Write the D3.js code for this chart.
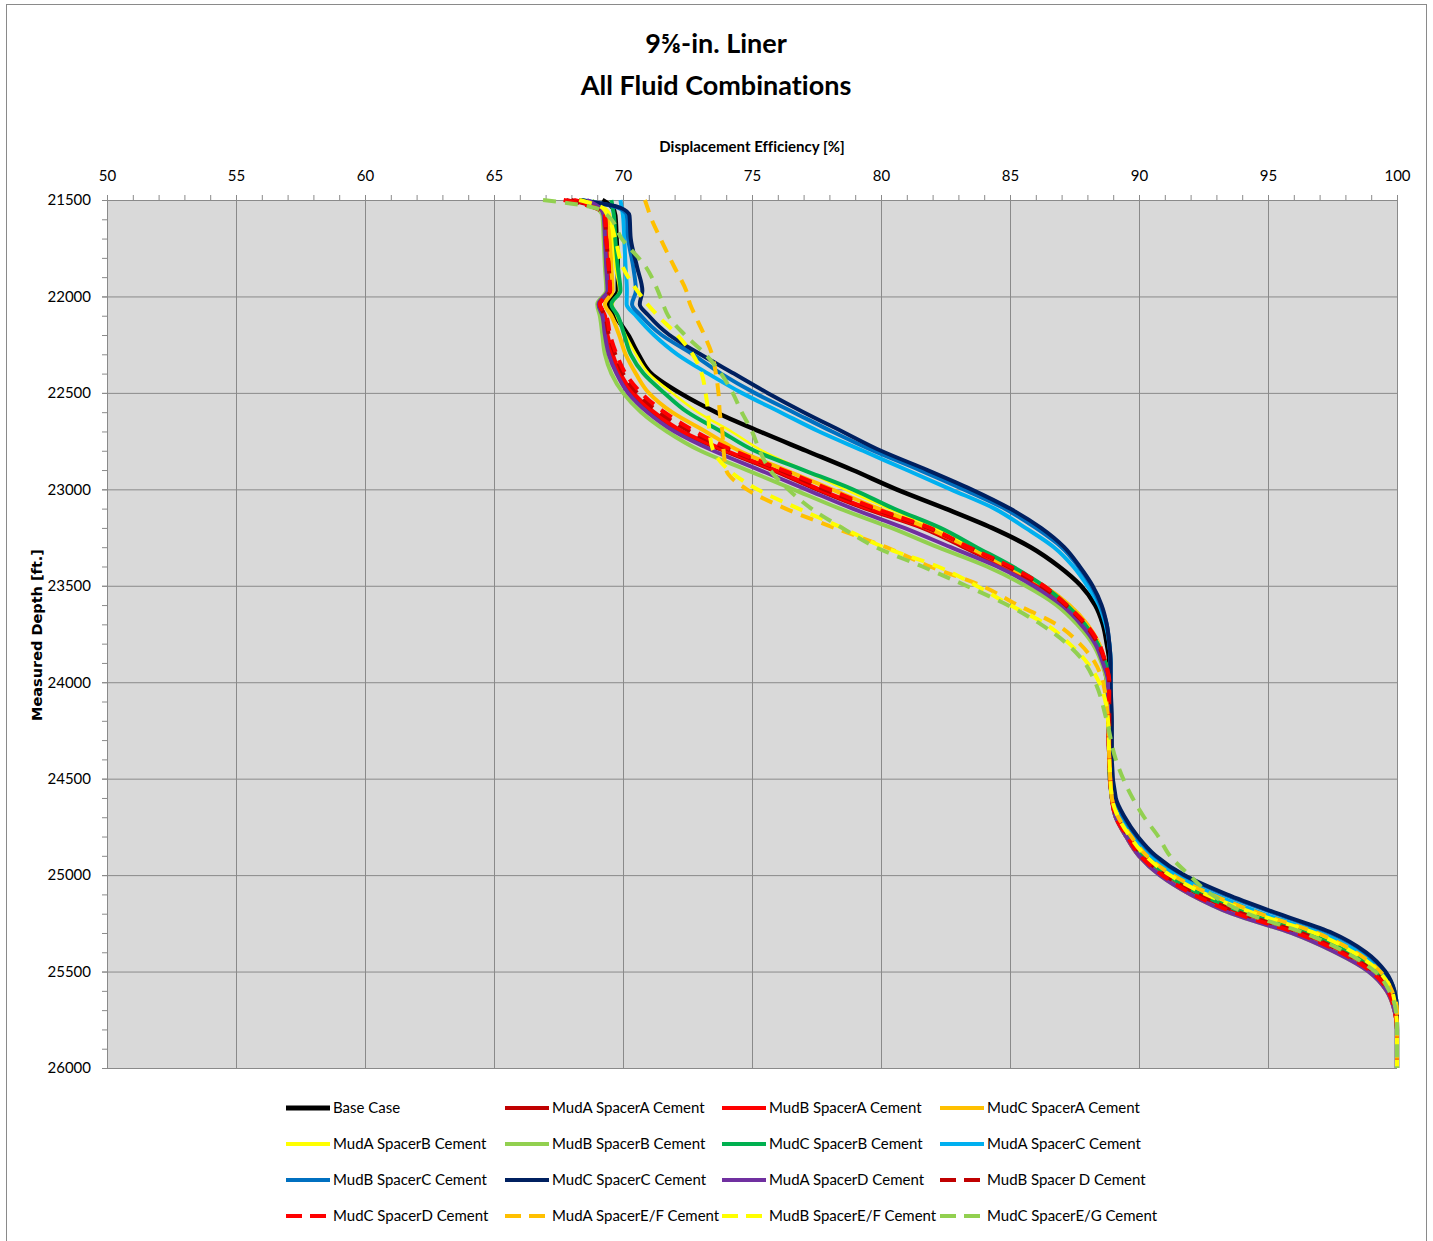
<!DOCTYPE html>
<html>
<head>
<meta charset="utf-8">
<script src="https://cdn.jsdelivr.net/npm/d3@7"></script>
<style>
  body { margin: 0; background: #fff; }
  svg text { font-family: Lato, "Open Sans", sans-serif; fill: #000; font-variant-ligatures: none; font-feature-settings: "liga" 0, "dlig" 0; }
  .grid line { stroke: #8a8a8a; stroke-width: 1; }
  .grid path { display: none; }
  .axis path, .axis line { stroke: #8a8a8a; }
  .axis text { font-size: 15px; font-family: Lato, sans-serif; }
</style>
</head>
<body>
<div id="chart"></div>
<script>
// depth points (ft) shared by every series
const depths = [21500, 21540, 21580, 21700, 21850, 21970, 22040, 22100, 22200, 22300,
  22400, 22500, 22600, 22700, 22800, 22900, 23000, 23100, 23200, 23300,
  23400, 23500, 23600, 23700, 23800, 23900, 24000,
  24200, 24400, 24600, 24700, 24800, 24900, 25000, 25100, 25200, 25300, 25400, 25500, 25600, 25700, 25800, 26000];

// displacement efficiency [%] per series
const baseCase = [69.2, 69.6, 69.7, 69.75, 69.8, 69.8, 69.45, 69.7, 70.2, 70.6,
  71.1, 72.2, 73.6, 75.3, 77.1, 78.9, 80.6, 82.5, 84.3, 85.8,
  86.9, 87.75, 88.3, 88.6, 88.75, 88.85, 88.85,
  88.85, 88.85, 88.95, 89.2, 89.7, 90.3, 91.2, 92.6, 94.4, 96.7, 98.2, 99.25, 99.75, 99.95, 100, 100];
const mudASpacerA = [68.0, 69.0, 69.3, 69.35, 69.4, 69.45, 69.05, 69.25, 69.35, 69.55,
  69.85, 70.35, 71.1, 72.2, 73.9, 75.8, 77.5, 79.4, 81.6, 83.2,
  84.7, 86.0, 87.0, 87.8, 88.35, 88.6, 88.75,
  88.8, 88.85, 88.95, 89.1, 89.55, 90.1, 90.9, 92.1, 93.8, 96.1, 97.8, 99.0, 99.65, 99.9, 100, 100];
const mudBSpacerA = [68.1, 69.1, 69.35, 69.4, 69.45, 69.5, 69.1, 69.3, 69.4, 69.6,
  69.9, 70.4, 71.2, 72.3, 74.0, 75.9, 77.6, 79.5, 81.7, 83.3,
  84.8, 86.1, 87.1, 87.85, 88.4, 88.65, 88.8,
  88.8, 88.85, 88.95, 89.1, 89.5, 90.0, 90.85, 92.0, 93.7, 96.0, 97.7, 98.95, 99.6, 99.9, 100, 100];
const mudCSpacerA = [68.4, 69.2, 69.45, 69.5, 69.55, 69.6, 69.3, 69.55, 69.85, 70.1,
  70.5, 71.0, 71.9, 73.2, 74.5, 76.3, 78.1, 79.9, 81.8, 83.4,
  84.9, 86.3, 87.3, 88.0, 88.45, 88.7, 88.85,
  88.85, 88.85, 88.95, 89.2, 89.65, 90.25, 91.1, 92.5, 94.3, 96.6, 98.1, 99.2, 99.75, 99.95, 100, 100];
const mudASpacerB = [68.5, 69.3, 69.5, 69.6, 69.7, 69.85, 69.6, 69.75, 70.1, 70.5,
  71.0, 71.9, 72.9, 74.2, 75.4, 77.0, 78.6, 80.3, 82.1, 83.6,
  85.1, 86.3, 87.25, 87.95, 88.45, 88.7, 88.85,
  88.85, 88.85, 88.95, 89.2, 89.7, 90.3, 91.2, 92.6, 94.4, 96.7, 98.2, 99.25, 99.75, 99.95, 100, 100];
const mudBSpacerB = [68.8, 69.0, 69.2, 69.25, 69.3, 69.35, 69.0, 69.1, 69.2, 69.3,
  69.55, 70.0, 70.7, 71.7, 73.0, 74.8, 76.6, 78.4, 80.4, 82.2,
  84.1, 85.6, 86.8, 87.6, 88.2, 88.55, 88.75,
  88.8, 88.85, 88.95, 89.1, 89.5, 90.0, 90.8, 92.0, 93.6, 95.9, 97.6, 98.9, 99.6, 99.9, 100, 100];
const mudCSpacerB = [69.55, 69.6, 69.65, 69.7, 69.8, 69.9, 69.55, 69.8, 70.05, 70.3,
  70.8, 71.6, 72.5, 73.8, 75.1, 77.0, 78.9, 80.5, 82.3, 83.7,
  85.1, 86.3, 87.2, 87.9, 88.4, 88.7, 88.85,
  88.85, 88.85, 88.95, 89.15, 89.6, 90.2, 91.1, 92.4, 94.2, 96.5, 98.1, 99.2, 99.7, 99.95, 100, 100];
const mudASpacerC = [69.9, 69.95, 70.0, 70.05, 70.1, 70.15, 70.14, 70.5, 71.2, 72.1,
  73.3, 74.6, 76.1, 77.6, 79.3, 81.0, 82.7, 84.4, 85.6, 86.7,
  87.45, 88.0, 88.45, 88.7, 88.85, 88.9, 88.9,
  88.9, 88.9, 89.0, 89.3, 89.8, 90.45, 91.45, 92.9, 94.8, 97.0, 98.5, 99.4, 99.85, 100, 100, 100];
const mudBSpacerC = [68.4, 69.8, 70.15, 70.2, 70.4, 70.5, 70.35, 70.7, 71.5, 72.7,
  73.8, 75.1, 76.6, 78.1, 79.7, 81.5, 83.2, 84.8, 86.0, 87.0,
  87.65, 88.15, 88.5, 88.75, 88.85, 88.9, 88.9,
  88.9, 88.9, 89.05, 89.4, 89.9, 90.6, 91.7, 93.3, 95.3, 97.4, 98.75, 99.5, 99.9, 100, 100, 100];
const mudCSpacerC = [68.3, 69.9, 70.25, 70.3, 70.55, 70.75, 70.65, 71.0, 71.8, 73.0,
  74.3, 75.6, 77.0, 78.5, 80.0, 81.8, 83.5, 85.0, 86.2, 87.1,
  87.7, 88.2, 88.55, 88.75, 88.85, 88.9, 88.9,
  88.95, 88.95, 89.1, 89.45, 89.95, 90.65, 91.75, 93.4, 95.4, 97.5, 98.8, 99.55, 99.9, 100, 100, 100];
const mudASpacerD = [68.6, 69.1, 69.25, 69.3, 69.35, 69.4, 69.05, 69.2, 69.3, 69.45,
  69.75, 70.2, 70.95, 72.0, 73.5, 75.3, 77.1, 78.9, 80.9, 82.7,
  84.5, 85.9, 87.0, 87.75, 88.3, 88.6, 88.8,
  88.8, 88.85, 88.95, 89.1, 89.5, 90.0, 90.8, 92.0, 93.6, 95.9, 97.6, 98.9, 99.6, 99.9, 100, 100];
const mudBSpacerD = [67.8, 68.9, 69.3, 69.35, 69.45, 69.5, 69.1, 69.3, 69.45, 69.7,
  70.0, 70.55, 71.4, 72.6, 74.2, 76.1, 77.8, 79.7, 81.8, 83.4,
  84.9, 86.2, 87.15, 87.9, 88.4, 88.7, 88.85,
  88.85, 88.85, 88.95, 89.15, 89.6, 90.15, 91.0, 92.3, 94.0, 96.3, 97.9, 99.1, 99.7, 99.95, 100, 100];
const mudCSpacerD = [67.7, 68.9, 69.3, 69.35, 69.45, 69.5, 69.1, 69.35, 69.5, 69.75,
  70.1, 70.7, 71.6, 72.8, 74.3, 76.2, 78.0, 79.8, 81.9, 83.4,
  85.0, 86.3, 87.2, 87.95, 88.45, 88.7, 88.85,
  88.8, 88.85, 88.95, 89.1, 89.55, 90.05, 90.9, 92.1, 93.8, 96.1, 97.8, 99.0, 99.65, 99.9, 100, 100];
const mudASpacerEF = [70.85, 70.95, 71.05, 71.45, 72.0, 72.45, 72.6, 72.8, 73.15, 73.45,
  73.6, 73.7, 73.75, 73.85, 73.9, 74.0, 74.8, 76.3, 78.2, 80.2,
  81.9, 83.9, 85.3, 86.8, 87.7, 88.3, 88.6,
  88.8, 88.85, 88.95, 89.2, 89.7, 90.3, 91.3, 92.8, 94.7, 96.9, 98.4, 99.35, 99.8, 100, 100, 100];
const mudBSpacerEF = [68.3, 69.2, 69.4, 69.7, 70.0, 70.55, 70.95, 71.35, 72.1, 72.7,
  73.05, 73.2, 73.3, 73.35, 73.5, 74.1, 75.2, 76.8, 78.5, 80.1,
  82.2, 83.7, 85.0, 86.4, 87.3, 88.0, 88.45,
  88.8, 88.85, 88.95, 89.2, 89.65, 90.25, 91.2, 92.6, 94.5, 96.8, 98.3, 99.3, 99.8, 99.95, 100, 100];
const mudCSpacerEG = [66.9, 68.9, 69.4, 69.95, 70.9, 71.35, 71.55, 71.75, 72.4, 73.2,
  73.8, 74.25, 74.6, 75.0, 75.3, 75.7, 76.4, 77.3, 78.5, 79.8,
  81.6, 83.3, 84.9, 86.2, 87.2, 87.9, 88.3,
  88.75, 89.1, 89.75, 90.2, 90.75, 91.2, 91.95, 92.8, 94.2, 96.4, 98.0, 99.15, 99.7, 99.95, 100, 100];

const seriesNames = ["Base Case", "MudA SpacerA Cement", "MudB SpacerA Cement", "MudC SpacerA Cement",
  "MudA SpacerB Cement", "MudB SpacerB Cement", "MudC SpacerB Cement", "MudA SpacerC Cement",
  "MudB SpacerC Cement", "MudC SpacerC Cement", "MudA SpacerD Cement", "MudB Spacer D Cement",
  "MudC SpacerD Cement", "MudA SpacerE/F Cement", "MudB SpacerE/F Cement", "MudC SpacerE/G Cement"];
const seriesValues = [baseCase, mudASpacerA, mudBSpacerA, mudCSpacerA,
  mudASpacerB, mudBSpacerB, mudCSpacerB, mudASpacerC,
  mudBSpacerC, mudCSpacerC, mudASpacerD, mudBSpacerD,
  mudCSpacerD, mudASpacerEF, mudBSpacerEF, mudCSpacerEG];
const seriesColors = ["#000000", "#c00000", "#ff0000", "#ffc000",
  "#ffff00", "#92d050", "#00b050", "#00b0f0",
  "#0070c0", "#002060", "#7030a0", "#c00000",
  "#ff0000", "#ffc000", "#ffff00", "#92d050"];
const seriesDashed = [false, false, false, false, false, false, false, false,
  false, false, false, true, true, true, true, true];

const xTicks = d3.range(50, 101, 5);
const yTicks = d3.range(21500, 26001, 500);

const width = 1433, height = 1241;
const plot = { left: 107, right: 1397, top: 200, bottom: 1068 };

const svg = d3.select("#chart").append("svg")
  .attr("width", width).attr("height", height);

// outer chart frame
svg.append("rect")
  .attr("x", 6.5).attr("y", 4.5)
  .attr("width", 1420).attr("height", 1250)
  .attr("fill", "#fff").attr("stroke", "#8a8a8a");

const x = d3.scaleLinear().domain([50, 100]).range([plot.left, plot.right]);
const y = d3.scaleLinear().domain([21500, 26000]).range([plot.top, plot.bottom]);

svg.append("rect")
  .attr("x", plot.left).attr("y", plot.top)
  .attr("width", plot.right - plot.left).attr("height", plot.bottom - plot.top)
  .attr("fill", "#d9d9d9");

// gridlines
svg.append("g").attr("class", "grid")
  .attr("transform", `translate(0,${plot.bottom})`)
  .call(d3.axisBottom(x).tickValues(xTicks.slice(1)).tickSize(-(plot.bottom - plot.top)).tickFormat(""));
svg.append("g").attr("class", "grid")
  .attr("transform", `translate(${plot.left},0)`)
  .call(d3.axisLeft(y).tickValues(yTicks.slice(1)).tickSize(-(plot.right - plot.left)).tickFormat(""));

// axes: minor ticks first, then labelled majors
svg.append("g").attr("class", "axis")
  .attr("transform", `translate(0,${plot.top})`)
  .call(d3.axisTop(x).tickValues(d3.range(50, 101, 1)).tickSize(5).tickSizeOuter(0).tickFormat(""));
svg.append("g").attr("class", "axis")
  .attr("transform", `translate(0,${plot.top})`)
  .call(d3.axisTop(x).tickValues(xTicks).tickSize(5).tickSizeOuter(0).tickPadding(14));
svg.append("g").attr("class", "axis")
  .attr("transform", `translate(${plot.left},0)`)
  .call(d3.axisLeft(y).tickValues(d3.range(21500, 26001, 100)).tickSize(5).tickSizeOuter(0).tickFormat(""));
svg.append("g").attr("class", "axis")
  .attr("transform", `translate(${plot.left},0)`)
  .call(d3.axisLeft(y).tickValues(yTicks).tickSize(5).tickSizeOuter(0).tickPadding(11).tickFormat(d3.format("d")));

svg.selectAll(".axis .domain").attr("stroke", "#8a8a8a");

// series lines
const line = d3.line()
  .x(d => x(d[1]))
  .y(d => y(d[0]))
  .curve(d3.curveMonotoneY);

const lines = svg.append("g").attr("class", "lines");
seriesNames.forEach((name, i) => {
  const pts = depths.map((dep, j) => [dep, seriesValues[i][j]]);
  lines.append("path")
    .datum(pts)
    .attr("d", line)
    .attr("fill", "none")
    .attr("stroke", seriesColors[i])
    .attr("stroke-width", i === 0 ? 4.5 : (i === 4 ? 2.5 : 4))
    .attr("stroke-linejoin", "round")
    .attr("stroke-dasharray", seriesDashed[i] ? "13,9" : null);
});

// titles
svg.append("text")
  .attr("x", 716).attr("y", 53)
  .attr("text-anchor", "middle")
  .style("font-size", "27px").style("font-weight", "bold")
  .text("9⅝-in. Liner");
svg.append("text")
  .attr("x", 716).attr("y", 95)
  .attr("text-anchor", "middle")
  .style("font-size", "27px").style("font-weight", "bold")
  .text("All Fluid Combinations");

svg.append("text")
  .attr("x", 752).attr("y", 152)
  .attr("text-anchor", "middle")
  .style("font-size", "15px").style("font-weight", "bold")
  .text("Displacement Efficiency [%]");

svg.append("text")
  .attr("transform", "translate(42,635) rotate(-90)")
  .attr("text-anchor", "middle")
  .style("font-family", "'DejaVu Sans', Verdana, sans-serif")
  .style("font-size", "14.5px").style("font-weight", "bold")
  .text("Measured Depth [ft.]");

// legend
const legendCols = [286, 505, 722, 940];
const legendRows = [1108, 1144, 1180, 1216];
const legend = svg.append("g").attr("class", "legend");
seriesNames.forEach((name, i) => {
  const lx = legendCols[i % 4], ly = legendRows[Math.floor(i / 4)];
  legend.append("line")
    .attr("x1", lx).attr("x2", lx + 44)
    .attr("y1", ly).attr("y2", ly)
    .attr("stroke", seriesColors[i])
    .attr("stroke-width", i === 0 ? 5 : 4)
    .attr("stroke-dasharray", seriesDashed[i] ? "16,8" : null);
  legend.append("text")
    .attr("x", lx + 47).attr("y", ly)
    .attr("dy", "0.35em")
    .style("font-size", "15px")
    .text(name);
});
</script>
</body>
</html>
